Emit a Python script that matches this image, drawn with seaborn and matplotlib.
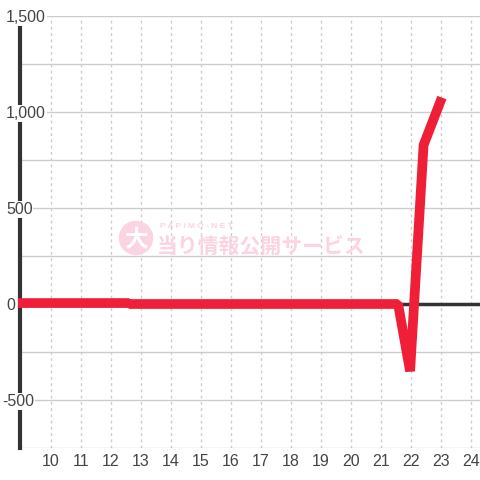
import numpy as np
import pandas as pd
import matplotlib
matplotlib.use("Agg")
import matplotlib.pyplot as plt
import matplotlib.transforms as mtransforms
import seaborn as sns

# データ (読み取り値)
hours  = [8.9, 12.6, 12.61, 21.57, 21.97, 22.42, 23.03]
values = [5, 5, 0, 0, -350, 828, 1075]

y_major = [-500, 0, 500, 1000, 1500]
y_labels = ["-500", "0", "500", "1,000", "1,500"]
x_ticks = list(range(10, 25))

RED = "#ee1f36"
DARK = "#333333"
GRID = "#cccccc"
TEXT = "#444444"

sns.set_style("white")
plt.rcParams["font.family"] = ["Liberation Sans", "Noto Sans CJK JP", "DejaVu Sans"]

fig = plt.figure(figsize=(4.8, 4.8), dpi=100)
ax = fig.add_axes([20 / 480, 32 / 480, 460 / 480, 432 / 480])

ax.set_xlim(8.97, 24.3)
ax.set_ylim(-750, 1500)

# グリッド
for y in np.arange(-750, 1501, 250):
    ax.axhline(y, color=GRID, lw=1, zorder=0)
for x in x_ticks:
    ax.axvline(x, color=GRID, lw=1, ls=(0, (2, 2.5)), zorder=0)
ax.axhline(0, color=DARK, lw=2.5, zorder=1)

df = pd.DataFrame({"hour": hours, "value": values})
sns.lineplot(data=df, x="hour", y="value", ax=ax, color=RED, lw=7,
             sort=False, zorder=4, solid_capstyle="butt",
             solid_joinstyle="bevel")
ax.lines[-1].set_clip_on(False)

# 軸
for s in ["top", "right", "bottom"]:
    ax.spines[s].set_visible(False)
ax.spines["left"].set_color(DARK)
ax.spines["left"].set_linewidth(3)

ax.set_xlabel("")
ax.set_ylabel("")
ax.set_xticks(x_ticks)
ax.set_xticklabels([str(x) for x in x_ticks], fontsize=11.5, color=TEXT)
ax.tick_params(axis="x", length=0, pad=4)
ax.set_yticks([])

trans = mtransforms.blended_transform_factory(
    mtransforms.IdentityTransform(), ax.transData)
for y, lab in zip(y_major, y_labels):
    xpix = 2 if lab.startswith("-") else 6
    ax.text(xpix, y, lab, transform=trans, ha="left", va="center_baseline",
            fontsize=11.5, color=TEXT, zorder=5, clip_on=False,
            bbox=dict(facecolor="white", edgecolor="none", pad=0.5))

# ウォーターマーク
PINK = "#fbd3e3"
ax.add_patch(plt.Circle((136 / 480, 1 - 238 / 480), 16.5 / 480,
                        transform=fig.transFigure, color=PINK, zorder=2,
                        clip_on=False))
fig.text(136 / 480, 1 - 240 / 480, "大", ha="center", va="center",
         fontsize=17, color="white", fontweight="bold",
         family=["Noto Sans CJK JP"], zorder=3)
fig.text(160 / 480, 1 - 227 / 480, "P A P I M O - N E T", ha="left",
         va="center", fontsize=6, color=PINK, fontweight="bold")
fig.text(157 / 480, 1 - 247 / 480, "当り情報公開サービス", ha="left",
         va="center", fontsize=15, color=PINK, fontweight="bold",
         family=["Noto Sans CJK JP"])

fig.savefig("out.png", dpi=100)
